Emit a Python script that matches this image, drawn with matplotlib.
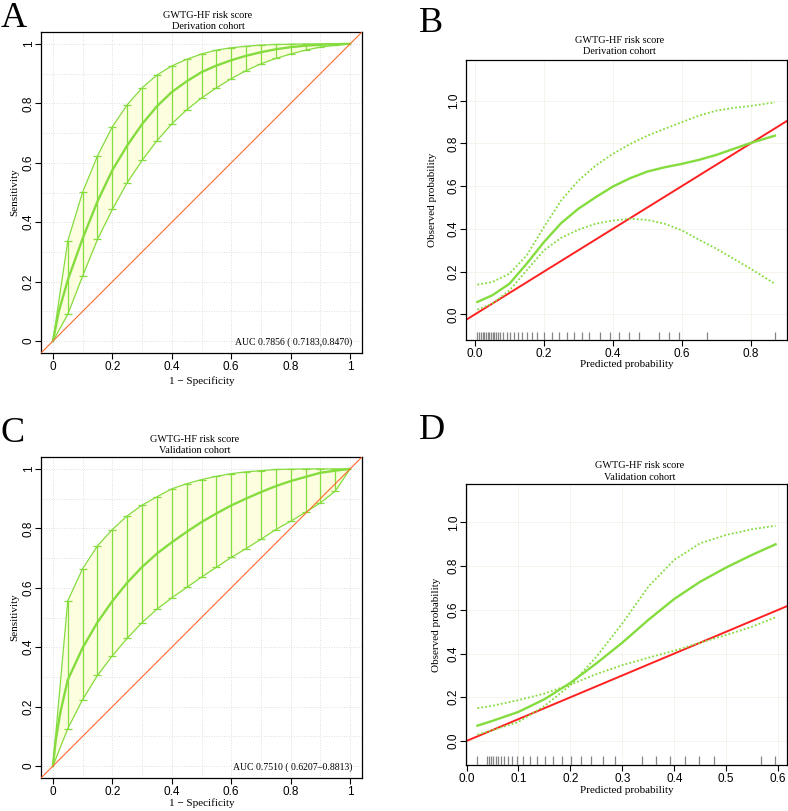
#!/usr/bin/env python3
"""ROC curves and calibration plots for the GWTG-HF risk score (2x2 panel)."""
import numpy as np
import matplotlib
matplotlib.use("Agg")
import matplotlib.pyplot as plt
import matplotlib.transforms as mtrans

SERIF = "Liberation Serif"
SANS = "Liberation Sans"
GREEN = "#84dc3e"
FILL = "#fdfee0"
ORANGE = "#ff6a2a"
RED = "#ff2121"

# ---- ROC data (values at 1 - specificity steps of 0.05) ----
roc_x = [0, 0.05, 0.1, 0.15, 0.2, 0.25, 0.3, 0.35, 0.4, 0.45, 0.5,
         0.55, 0.6, 0.65, 0.7, 0.75, 0.8, 0.85, 0.9, 0.95, 1.0]

deriv_upper = [0, 0.336, 0.501, 0.623, 0.721, 0.795, 0.852, 0.895, 0.926, 0.948, 0.966,
               0.979, 0.987, 0.992, 0.996, 0.998, 0.999, 1.0, 1.0, 1.0, 1.0]
deriv_lower = [0, 0.090, 0.219, 0.342, 0.443, 0.533, 0.608, 0.674, 0.731, 0.778, 0.818,
               0.852, 0.883, 0.910, 0.933, 0.951, 0.966, 0.979, 0.989, 0.995, 1.0]
deriv_main_x = [0, 0.02, 0.05, 0.1, 0.15, 0.2, 0.25, 0.3, 0.35, 0.4, 0.45, 0.5,
                0.55, 0.6, 0.65, 0.7, 0.75, 0.8, 0.85, 0.9, 0.95, 1.0]
deriv_main = [0, 0.10, 0.205, 0.345, 0.47, 0.575, 0.658, 0.73, 0.79, 0.838, 0.874, 0.905,
              0.927, 0.945, 0.96, 0.972, 0.982, 0.989, 0.994, 0.997, 0.999, 1.0]
deriv_auc = "AUC 0.7856 ( 0.7183,0.8470)"

valid_upper = [0, 0.556, 0.664, 0.741, 0.796, 0.842, 0.878, 0.906, 0.933, 0.950, 0.964,
               0.975, 0.984, 0.990, 0.994, 0.998, 0.999, 1.0, 1.0, 1.0, 1.0]
valid_lower = [0, 0.126, 0.224, 0.305, 0.371, 0.430, 0.483, 0.528, 0.566, 0.601, 0.636,
               0.669, 0.702, 0.732, 0.763, 0.796, 0.824, 0.854, 0.886, 0.925, 1.0]
valid_main_x = [0, 0.01, 0.025, 0.05, 0.1, 0.15, 0.2, 0.25, 0.3, 0.35, 0.4, 0.45, 0.5,
                0.55, 0.6, 0.65, 0.7, 0.75, 0.8, 0.85, 0.9, 0.95, 1.0]
valid_main = [0, 0.09, 0.18, 0.29, 0.398, 0.484, 0.555, 0.617, 0.67, 0.715, 0.753, 0.788,
              0.821, 0.85, 0.877, 0.9, 0.922, 0.942, 0.959, 0.973, 0.987, 0.994, 1.0]
valid_auc = "AUC 0.7510 ( 0.6207\u20130.8813)"

# ---- calibration data ----
cal_deriv_x = [0.007, 0.05, 0.1, 0.15, 0.2, 0.25, 0.3, 0.35, 0.4, 0.45, 0.5,
               0.55, 0.6, 0.65, 0.7, 0.75, 0.8, 0.87]
cal_deriv_fit = [0.058, 0.089, 0.143, 0.237, 0.338, 0.427, 0.494, 0.548, 0.598, 0.637,
                 0.668, 0.688, 0.704, 0.723, 0.746, 0.774, 0.802, 0.836]
cal_deriv_ci1 = [0.139, 0.151, 0.19, 0.276, 0.408, 0.533, 0.626, 0.696, 0.751, 0.797,
                 0.836, 0.868, 0.899, 0.93, 0.953, 0.966, 0.975, 0.992]
cal_deriv_ci2 = [0.022, 0.05, 0.112, 0.206, 0.299, 0.358, 0.396, 0.424, 0.439, 0.447,
                 0.442, 0.424, 0.393, 0.349, 0.307, 0.26, 0.213, 0.143]
rug_deriv = [0.007, 0.012, 0.017, 0.022, 0.027, 0.032, 0.037, 0.042, 0.046, 0.051,
             0.056, 0.061, 0.066, 0.073, 0.082, 0.092, 0.102, 0.113, 0.124, 0.135,
             0.15, 0.164, 0.179, 0.2, 0.223, 0.245, 0.266, 0.287, 0.311, 0.332,
             0.363, 0.392, 0.419, 0.448, 0.477, 0.535, 0.564, 0.591, 0.673, 0.871]

cal_valid_x = [0.021, 0.05, 0.1, 0.15, 0.2, 0.25, 0.3, 0.35, 0.4, 0.45, 0.5, 0.55, 0.595]
cal_valid_fit = [0.07, 0.092, 0.133, 0.191, 0.266, 0.355, 0.45, 0.554, 0.65, 0.729,
                 0.794, 0.852, 0.9]
cal_valid_ci1 = [0.029, 0.049, 0.087, 0.16, 0.255, 0.385, 0.538, 0.706, 0.829, 0.905,
                 0.943, 0.969, 0.985]
cal_valid_ci2 = [0.15, 0.161, 0.187, 0.217, 0.258, 0.306, 0.347, 0.381, 0.413, 0.45,
                 0.485, 0.523, 0.566]
rug_valid = [0.021, 0.039, 0.043, 0.047, 0.051, 0.056, 0.061, 0.066, 0.073, 0.080,
             0.088, 0.098, 0.109, 0.122, 0.135, 0.151, 0.167, 0.183, 0.202, 0.220,
             0.240, 0.263, 0.285, 0.337, 0.364, 0.391, 0.42, 0.448, 0.476, 0.566, 0.593]

W, H = 788, 811
fig = plt.figure(figsize=(W / 100, H / 100), dpi=100)
fig.patch.set_facecolor("white")


def add_axes(l, t, r, b):
    return fig.add_axes([l / W, 1 - b / H, (r - l) / W, (b - t) / H])


def fig_text(x, y, s, **kw):
    fig.text(x / W, 1 - y / H, s, **kw)


def style_axes(ax, xticks, xlabels, yticks, ylabels):
    ax.set_xticks(xticks, xlabels)
    ax.set_yticks(yticks, ylabels)
    ax.tick_params(direction="out", length=4, width=0.8, pad=1.5, labelsize=8.5)
    ax.tick_params(axis="y", labelrotation=90, pad=0.5)
    for lab in ax.get_xticklabels() + ax.get_yticklabels():
        lab.set_fontfamily(SANS)
    for lab in ax.get_yticklabels():
        lab.set_va("center")
    for sp in ax.spines.values():
        sp.set_linewidth(0.9)


def roc_panel(ax, upper, lower, main_x, main_y, auc):
    ax.set_xlim(-0.04, 1.04)
    ax.set_ylim(-0.04, 1.04)
    for g in np.linspace(0, 1, 11):
        ax.axvline(g, color="#d4d4d4", lw=0.6, ls=(0, (1, 2)), zorder=0)
        ax.axhline(g, color="#d4d4d4", lw=0.6, ls=(0, (1, 2)), zorder=0)
    ax.fill_between(roc_x, lower, upper, color=FILL, lw=0, zorder=1)
    ax.plot(roc_x, upper, color=GREEN, lw=0.9, zorder=2)
    ax.plot(roc_x, lower, color=GREEN, lw=0.9, zorder=2)
    ax.vlines(roc_x[1:-1], lower[1:-1], upper[1:-1], color=GREEN, lw=0.9, zorder=2)
    ax.plot(roc_x[1:-1], upper[1:-1], ls="none", marker="_", ms=5.5, mew=0.9,
            color=GREEN, zorder=2)
    ax.plot(roc_x[1:-1], lower[1:-1], ls="none", marker="_", ms=5.5, mew=0.9,
            color=GREEN, zorder=2)
    ax.plot(main_x, main_y, color=GREEN, lw=1.7, zorder=3)
    ax.axline((0, 0), slope=1, color=ORANGE, lw=0.8, zorder=3)
    ax.text(1.007, -0.004, auc, ha="right", va="center", fontsize=7.0, family=SERIF)
    style_axes(ax, [0, 0.2, 0.4, 0.6, 0.8, 1], ["0", "0.2", "0.4", "0.6", "0.8", "1"],
               [0, 0.2, 0.4, 0.6, 0.8, 1], ["0", "0.2", "0.4", "0.6", "0.8", "1"])
    ax.set_xlabel("1 \u2212 Specificity", family=SERIF, fontsize=8)
    ax.set_ylabel("Sensitivity", family=SERIF, fontsize=8)


def cal_panel(ax, x, fit, ci1, ci2, rug, xlim, ylim, xticks, xlabels, rug_len):
    ax.set_xlim(*xlim)
    ax.set_ylim(*ylim)
    for g in xticks:
        ax.axvline(g, color="#f3f3ea", lw=0.6, zorder=0)
    for g in [0, 0.2, 0.4, 0.6, 0.8, 1.0]:
        ax.axhline(g, color="#f3f3ea", lw=0.6, zorder=0)
    ax.axline((0, 0), slope=1, color=RED, lw=1.4, zorder=2)
    ax.plot(x, ci1, color=GREEN, lw=1.3, ls=(0, (1, 1.2)), zorder=3)
    ax.plot(x, ci2, color=GREEN, lw=1.3, ls=(0, (1, 1.2)), zorder=3)
    ax.plot(x, fit, color=GREEN, lw=1.7, zorder=4)
    trans = mtrans.blended_transform_factory(ax.transData, ax.transAxes)
    ax.vlines(rug, 0, rug_len, transform=trans, color="#858585", lw=0.9, zorder=3)
    style_axes(ax, xticks, xlabels, [0, 0.2, 0.4, 0.6, 0.8, 1.0],
               ["0.0", "0.2", "0.4", "0.6", "0.8", "1.0"])
    ax.set_xlabel("Predicted probability", family=SERIF, fontsize=8)
    ax.set_ylabel("Observed probability", family=SERIF, fontsize=8)


# panel A
axA = add_axes(41, 32, 362, 353)
roc_panel(axA, deriv_upper, deriv_lower, deriv_main_x, deriv_main, deriv_auc)
axA.xaxis.set_label_coords(0.5, -0.074)
axA.yaxis.set_label_coords(-0.067, 0.5)

# panel C
axC = add_axes(41, 457, 362, 778)
roc_panel(axC, valid_upper, valid_lower, valid_main_x, valid_main, valid_auc)
axC.xaxis.set_label_coords(0.5, -0.064)
axC.yaxis.set_label_coords(-0.067, 0.5)

# panel B
axB = add_axes(466, 60, 787, 340)
cal_panel(axB, cal_deriv_x, cal_deriv_fit, cal_deriv_ci1, cal_deriv_ci2, rug_deriv,
          (-0.026, 0.905), (-0.12, 1.19), [0, 0.2, 0.4, 0.6, 0.8],
          ["0.0", "0.2", "0.4", "0.6", "0.8"], 0.029)
axB.xaxis.set_label_coords(0.5, -0.072)
axB.yaxis.set_label_coords(-0.090, 0.5)

# panel D
axD = add_axes(466, 484, 787, 765)
cal_panel(axD, cal_valid_x, cal_valid_fit, cal_valid_ci1, cal_valid_ci2, rug_valid,
          (-0.001, 0.617), (-0.11, 1.176), [0, 0.1, 0.2, 0.3, 0.4, 0.5, 0.6],
          ["0.0", "0.1", "0.2", "0.3", "0.4", "0.5", "0.6"], 0.032)
axD.xaxis.set_label_coords(0.5, -0.076)
axD.yaxis.set_label_coords(-0.078, 0.5)

# titles (two lines each)
title_kw = dict(ha="center", va="baseline", fontsize=7.4, family=SERIF)
fig_text(208, 18, "GWTG-HF risk score", **title_kw)
fig_text(208, 29.3, "Derivation cohort", **title_kw)
fig_text(619.7, 43.3, "GWTG-HF risk score", **title_kw)
fig_text(619.7, 54.3, "Derivation cohort", **title_kw)
fig_text(195, 441.7, "GWTG-HF risk score", **title_kw)
fig_text(195, 453.3, "Validation cohort", **title_kw)
fig_text(639.7, 468.3, "GWTG-HF risk score", **title_kw)
fig_text(639.7, 480, "Validation cohort", **title_kw)

# panel letters
letter_kw = dict(ha="left", va="baseline", fontsize=26, family=SERIF)
fig_text(1, 27, "A", **letter_kw)
fig_text(419, 31.5, "B", **letter_kw)
fig_text(0, 441.5, "C", **letter_kw)
fig_text(419, 439.3, "D", **letter_kw)

fig.savefig("out.png", dpi=100)
